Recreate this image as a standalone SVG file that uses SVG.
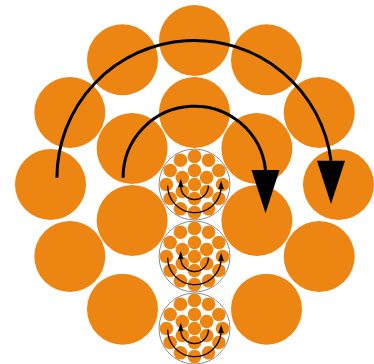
<svg xmlns="http://www.w3.org/2000/svg" xmlns:xlink="http://www.w3.org/1999/xlink" width="374" height="364" viewBox="0 0 374 364">
<style>
.c{fill:#EC8511;}
.big{fill:#EC8511;}
.ring{fill:#fff;stroke:#8c8c8c;stroke-width:1;}
.arc{fill:none;stroke:#000;stroke-width:3;}
.sarc{fill:none;stroke:#000;stroke-width:1.3;}
</style>
<defs>
<marker id="ah" markerUnits="userSpaceOnUse" markerWidth="50" markerHeight="30" refX="0" refY="14" orient="90" overflow="visible"><path d="M0,0 L43.3,14 L0,28 z" fill="#000"/></marker>
<marker id="sah" markerUnits="userSpaceOnUse" markerWidth="10" markerHeight="6" refX="0" refY="2.75" orient="-90" overflow="visible"><path d="M0,0 L8.4,2.75 L0,5.5 z" fill="#000"/></marker>
<g id="mini">
<circle class="ring" r="35.5"/>
<circle class="c" cx="0" cy="-28.08" r="6.8"/>
<circle class="c" cx="14.04" cy="-24.32" r="6.8"/>
<circle class="c" cx="24.32" cy="-14.04" r="6.8"/>
<circle class="c" cx="28.08" cy="0" r="6.8"/>
<circle class="c" cx="24.32" cy="14.04" r="6.8"/>
<circle class="c" cx="14.04" cy="24.32" r="6.8"/>
<circle class="c" cx="0" cy="28.08" r="6.8"/>
<circle class="c" cx="-14.04" cy="24.32" r="6.8"/>
<circle class="c" cx="-24.32" cy="14.04" r="6.8"/>
<circle class="c" cx="-28.08" cy="0" r="6.8"/>
<circle class="c" cx="-24.32" cy="-14.04" r="6.8"/>
<circle class="c" cx="-14.04" cy="-24.32" r="6.8"/>
<circle class="c" cx="0" cy="-14.04" r="6.8"/>
<circle class="c" cx="12.16" cy="-7.02" r="6.8"/>
<circle class="c" cx="12.16" cy="7.02" r="6.8"/>
<circle class="c" cx="0" cy="14.04" r="6.8"/>
<circle class="c" cx="-12.16" cy="7.02" r="6.8"/>
<circle class="c" cx="-12.16" cy="-7.02" r="6.8"/>
<circle class="c" cx="0" cy="0" r="6.8"/>
<path class="sarc" d="M13.9,1.3 A13.9,13.9 0 0 1 -13.8,2.8" marker-end="url(#sah)"/>
<path class="sarc" d="M-26.8,1.3 A26.8,26.8 0 0 0 26.6,4.6" marker-end="url(#sah)"/>
</g>
</defs>
<g id="outer-ring">
<g id="o0"><circle class="big" cx="194.5" cy="40.5" r="35.5"/></g>
<g id="o1"><circle class="big" cx="266.5" cy="59.8" r="35.5"/></g>
<g id="o2"><circle class="big" cx="319.2" cy="112.5" r="35.5"/></g>
<g id="o3"><circle class="big" cx="338.5" cy="184.5" r="35.5"/></g>
<g id="o4"><circle class="big" cx="319.2" cy="256.5" r="35.5"/></g>
<g id="o5"><circle class="big" cx="266.5" cy="309.2" r="35.5"/></g>
<g id="o7"><circle class="big" cx="122.5" cy="309.2" r="35.5"/></g>
<g id="o8"><circle class="big" cx="69.8" cy="256.5" r="35.5"/></g>
<g id="o9"><circle class="big" cx="50.5" cy="184.5" r="35.5"/></g>
<g id="o10"><circle class="big" cx="69.8" cy="112.5" r="35.5"/></g>
<g id="o11"><circle class="big" cx="122.5" cy="59.8" r="35.5"/></g>
</g>
<g id="inner-ring">
<g id="i0"><circle class="big" cx="194.5" cy="112.5" r="35.5"/></g>
<g id="i1"><circle class="big" cx="256.85" cy="148.5" r="35.5"/></g>
<g id="i2"><circle class="big" cx="256.85" cy="220.5" r="35.5"/></g>
<g id="i4"><circle class="big" cx="132.15" cy="220.5" r="35.5"/></g>
<g id="i5"><circle class="big" cx="132.15" cy="148.5" r="35.5"/></g>
</g>
<g id="mini-center"><use href="#mini" xlink:href="#mini" transform="translate(194.5,184.5)"/></g>
<g id="mini-inner-bottom"><use href="#mini" xlink:href="#mini" transform="translate(194.5,256.5)"/></g>
<g id="mini-outer-bottom"><use href="#mini" xlink:href="#mini" transform="translate(194.5,328.5)"/></g>
<g id="connectors">
<path class="arc" d="M56.9,177.7 A137.6,137.6 0 0 1 331,160.7" marker-end="url(#ah)"/>
<path class="arc" d="M123.1,177.7 A71.4,71.4 0 0 1 265.5,170" marker-end="url(#ah)"/>
</g>
</svg>
